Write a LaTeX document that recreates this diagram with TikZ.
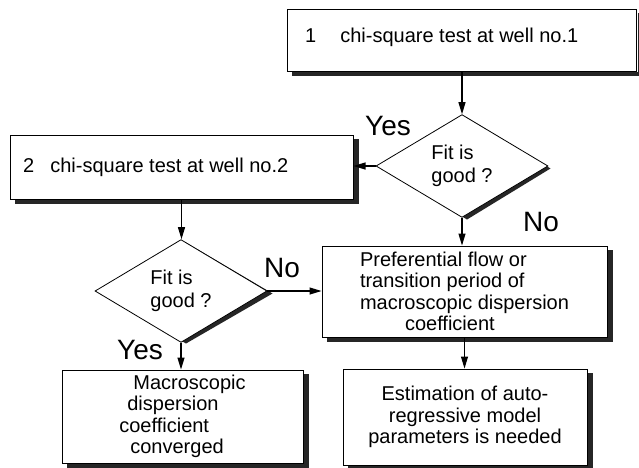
\documentclass[tikz,border=0pt]{standalone}
\usepackage{fontspec}
\setmainfont{Liberation Sans}
\usetikzlibrary{arrows.meta,shapes.geometric,calc}
\begin{document}
\begin{tikzpicture}[x=1pt,y=-1pt,
  box/.style={draw, line width=1pt, fill=white, inner sep=0pt},
  dia/.style={draw, diamond, line width=0.8pt, fill=white, inner sep=0pt,
    minimum width=172pt, minimum height=100pt, align=left,
    font=\fontsize{20}{23}\selectfont},
  shadowfill/.style={fill=black!85},
  txt/.style={font=\fontsize{20}{21.5}\selectfont},
  lbl/.style={font=\fontsize{28}{30}\selectfont, inner sep=0pt},
  arr/.style={-{Triangle[width=7pt,length=12pt]}, line width=1.1pt}
]
\fill[white] (0,0) rectangle (639,467);
\useasboundingbox (0,0) rectangle (639,467);

% diamond shadows (drawn first, under the diamonds)
\fill[shadowfill] (467,117.5) -- (550.5,168.5) -- (467,219.5) -- (383.5,168.5) -- cycle;
\fill[shadowfill] (186,242.5) -- (272.5,293.5) -- (186,343.5) -- (99.5,293.5) -- cycle;

% boxes
\node[box, minimum width=349pt, minimum height=62pt] (b1) at (462,40) {};
\node[txt, anchor=west, inner sep=0pt] (t1) at (305,37) {1\hspace{24pt}chi-square test at well no.1};

\node[box, minimum width=343pt, minimum height=64pt] (b2) at (181.5,167) {};
\node[txt, anchor=west, inner sep=0pt] (t2) at (23,167) {2\hspace{16pt}chi-square test at well no.2};

\node[dia] (d1) at (462,166) {Fit is\\good ?};
\node[dia] (d2) at (181,291) {Fit is\\good ?};

\node[box, txt, align=left, minimum width=285pt, minimum height=91pt] (b3) at (464.5,291.5)
  {Preferential flow or\\transition period of\\macroscopic dispersion\\\hspace*{45pt}coefficient};

\node[box, txt, align=left, minimum width=241pt, minimum height=93pt] (b4) at (182.5,416.5)
  {\hspace*{14pt}Macroscopic\\\hspace*{8pt}dispersion\\coefficient\\\hspace*{11pt}converged};

\node[box, txt, align=center, minimum width=244pt, minimum height=96pt] (b5) at (465,417)
  {Estimation of auto-\\regressive model\\parameters is needed};

% box shadows: bands along the right and bottom sides
\foreach \n in {b1,b2,b3,b4,b5}{
  \fill[shadowfill] ($(\n.north east)+(0.5,4)$) rectangle ($(\n.south east)+(5,4)$);
  \fill[shadowfill] ($(\n.south west)+(5,0.5)$) rectangle ($(\n.south east)+(5,4)$);
}

% labels
\node[lbl] (yes1) at (388,126) {Yes};
\node[lbl] (no1) at (541,222) {No};
\node[lbl] (no2) at (282,268) {No};
\node[lbl] (yes2) at (140,350) {Yes};

% connectors
\draw[arr] (b1.south) -- (d1.north);
\draw[arr] (d1.west) -- (d1.west -| b2.east);
\draw[arr] (d1.south) -- (d1.south |- b3.north);
\draw[arr] (b2.south) -- (b2.south |- d2.north);
\draw[arr] (d2.east) -- (d2.east -| b3.west);
\draw[arr] (d2.south) -- (d2.south |- b4.north);
\draw[arr] (b3.south) -- (b3.south |- b5.north);
\end{tikzpicture}
\end{document}
